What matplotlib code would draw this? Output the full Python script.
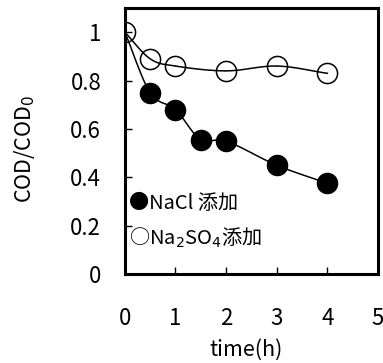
import numpy as np
import matplotlib
matplotlib.use("Agg")
import matplotlib.pyplot as plt

plt.rcParams["font.family"] = ["Noto Sans CJK JP", "DejaVu Sans"]

# data
nacl_t = [0, 0.5, 1, 1.5, 2, 3, 4]
nacl_cod = [1.0, 0.75, 0.68, 0.555, 0.55, 0.45, 0.375]
na2so4_t = [0, 0.5, 1, 2, 3, 4]
na2so4_cod = [1.0, 0.89, 0.86, 0.84, 0.86, 0.83]
xticks = [0, 1, 2, 3, 4, 5]
yticks = [0, 0.2, 0.4, 0.6, 0.8, 1.0]
ytick_labels = ["0", "0.2", "0.4", "0.6", "0.8", "1"]


def smooth(x, y, n=20):
    """Catmull-Rom style smoothed line through the points (like Excel)."""
    x = np.asarray(x, float)
    y = np.asarray(y, float)
    px = np.concatenate([[2 * x[0] - x[1]], x, [2 * x[-1] - x[-2]]])
    py = np.concatenate([[2 * y[0] - y[1]], y, [2 * y[-1] - y[-2]]])
    xs, ys = [], []
    for i in range(1, len(px) - 2):
        s = np.linspace(0, 1, n)
        for p, out in ((px, xs), (py, ys)):
            p0, p1, p2, p3 = p[i - 1], p[i], p[i + 1], p[i + 2]
            out.extend(0.5 * (2 * p1 + (-p0 + p2) * s
                              + (2 * p0 - 5 * p1 + 4 * p2 - p3) * s ** 2
                              + (-p0 + 3 * p1 - 3 * p2 + p3) * s ** 3))
    return xs, ys


fig = plt.figure(figsize=(3.83, 3.63), dpi=100)
ax = fig.add_axes([0.326, 0.245, 0.661, 0.733])

sx, sy = smooth(nacl_t, nacl_cod)
ax.plot(sx, sy, color="black", lw=1.1, zorder=2)
sx, sy = smooth(na2so4_t, na2so4_cod)
ax.plot(sx, sy, color="black", lw=1.1, zorder=2)

# the t=0 point is shown only by the open marker
ax.plot(nacl_t[1:], nacl_cod[1:], "o", ms=14.5, mfc="black", mec="black", zorder=3)
ax.plot(na2so4_t, na2so4_cod, "o", ms=14.5, mfc="none", mec="black", mew=1.1, zorder=3)

ax.set_xlim(0, 5)
ax.set_ylim(0, 1.1)
ax.set_xticks(xticks)
ax.set_yticks(yticks)
ax.set_yticklabels(ytick_labels)
ax.tick_params(axis="x", direction="in", length=5, width=1, pad=24, labelsize=16)
ax.tick_params(axis="y", direction="in", length=5, width=1, pad=17, labelsize=16)
for sp in ax.spines.values():
    sp.set_linewidth(2.2)

ax.set_xlabel("time(h)", fontsize=15.5)
ax.xaxis.label.set_va("center")
ax.xaxis.set_label_coords(0.478, -0.286)
ax.set_ylabel("COD/COD$_0$", fontsize=15.5)
ax.yaxis.label.set_va("center")
ax.yaxis.set_label_coords(-0.395, 0.47)

ax.text(0.075, 0.29, "●NaCl 添加", fontsize=14.5, va="center", ha="left")
ax.text(0.075, 0.15, "○Na$_2$SO$_4$添加", fontsize=14.5, va="center", ha="left")

fig.savefig("out.png", dpi=100)
